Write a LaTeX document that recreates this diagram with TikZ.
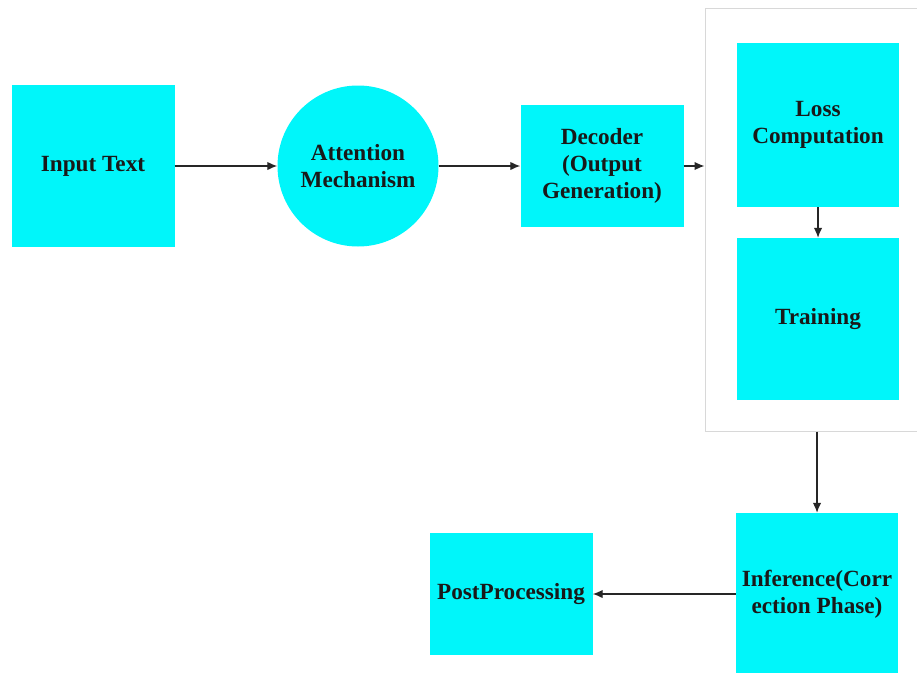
\documentclass[tikz,border=0pt]{standalone}
\usepackage{fontspec}
\setmainfont{Liberation Serif}
\usepackage{xcolor}
\usetikzlibrary{arrows.meta,positioning,fit,backgrounds}
\definecolor{aqua}{RGB}{0,246,250}
\definecolor{frame}{RGB}{216,216,216}

\begin{document}
\begin{tikzpicture}[x=1pt, y=-1pt,
  blk/.style={fill=aqua, draw=none, align=center, font=\fontsize{23.2}{27}\selectfont\bfseries, text=black!90, inner sep=2pt, minimum width=163pt, minimum height=162pt},
  round/.style={blk, circle, minimum size=161pt},
  grpbox/.style={draw=frame, line width=1pt, fill=white, inner sep=0pt},
  arr/.style={-{Latex[length=10pt,width=8.5pt]}, line width=1.3pt, black!85}
]
\useasboundingbox (0,0) rectangle (917,672);
% --- top row ---
\node[blk]   (input) at (93,166)  {Input Text};
\node[round] (att)   at (358,166) {Attention\\Mechanism};
\node[blk, minimum height=122pt] (dec) at (602,166) {Decoder\\(Output\\Generation)};
% --- training group ---
\node[blk, minimum width=162pt, minimum height=164pt] (loss)  at (818,125) {Loss\\Computation};
\node[blk, minimum width=162pt] (train) at (818,319) {Training};
\begin{scope}[on background layer]
\node[grpbox, fit={(705,8) (931,431)}] (grp) {};
\end{scope}
% --- bottom row ---
\node[blk, minimum width=162pt] (inf)  at (817,594) {Inference(Corr\\ection Phase)};
\node[blk, minimum height=122pt] (post) at (511,594) {PostProcessing};
% --- flow ---
\draw[arr] (input) -- (att);
\draw[arr] (att) -- (dec);
\draw[arr] (dec.east) -- (dec.east -| grp.west);
\draw[arr] (loss) -- (train);
\draw[arr] (grp.south -| inf.north) -- (inf.north);
\draw[arr] (inf) -- (post);
\end{tikzpicture}
\end{document}
